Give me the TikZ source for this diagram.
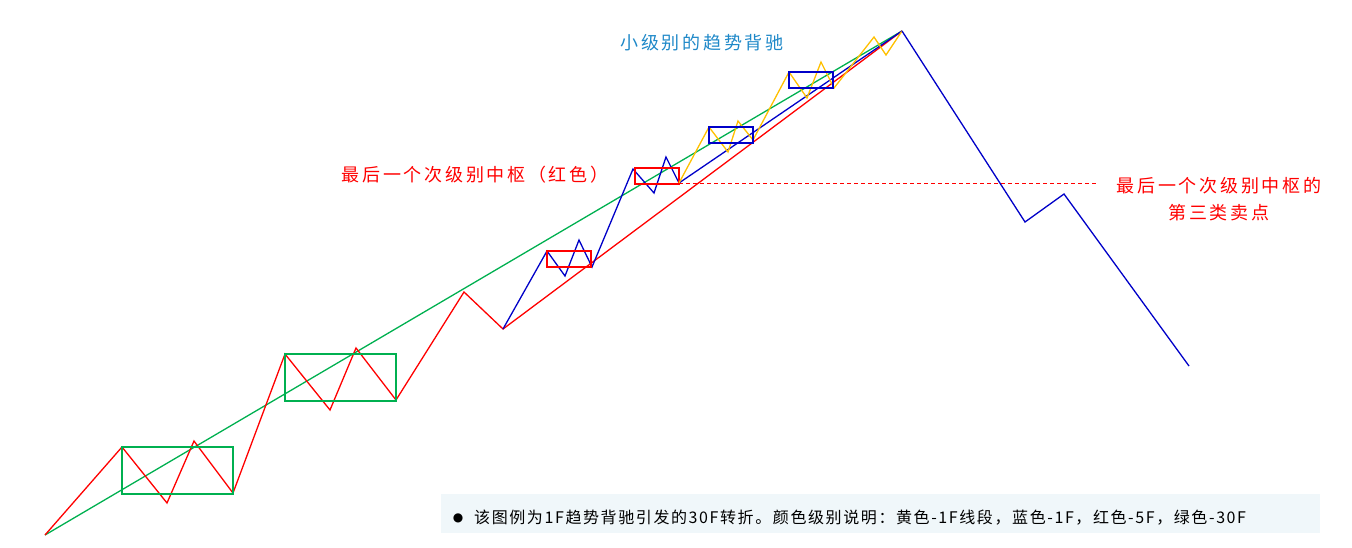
\documentclass[tikz,border=0pt]{standalone}
\usepackage{fontspec}
\newfontfamily\cjk{Noto Sans CJK SC}
\newfontfamily\cjksp[LetterSpace=15]{Noto Sans CJK SC}
\newfontfamily\cjkcap[LetterSpace=10]{Noto Sans CJK SC}
\newfontfamily\dejavu{DejaVu Sans}
\definecolor{cred}{RGB}{255,0,0}
\definecolor{cblue}{RGB}{0,0,200}
\definecolor{cgreen}{RGB}{0,176,80}
\definecolor{cyellow}{RGB}{255,192,0}
\definecolor{ctext}{RGB}{30,136,200}
\definecolor{cbg}{RGB}{240,247,250}
\tikzset{
  seg/.style={line width=1.3pt, line join=miter},
  zsbox/.style={line width=2pt},
  lbl/.style={font=\cjksp\fontsize{18}{22}\selectfont, inner sep=0pt},
}
\begin{document}
\begin{tikzpicture}[x=1pt,y=-1pt]
\useasboundingbox (0,0) rectangle (1352,547);
% caption background
\fill[cbg] (441,494) rectangle (1320,533);
% coordinates
\coordinate (s) at (45,535);
\coordinate (top) at (902,31);
\coordinate (rlow) at (503,329);
\coordinate (blow) at (679,183);
% green trend line
\draw[cgreen, seg] (s) -- (top);
% red 5F segments
\draw[cred, seg] (s) -- (122,447) -- (167,503) -- (194,441) -- (233,493) -- (285,354) -- (330,410) -- (356,348) -- (396,400) -- (464,292) -- (rlow) -- (top);
% green boxes
\draw[cgreen, zsbox] (122,447) rectangle (233,494);
\draw[cgreen, zsbox] (285,354) rectangle (396,401);
% blue 1F segments
\draw[cblue, seg] (rlow) -- (547,251) -- (565,276) -- (579,240) -- (592,267) -- (633,169) -- (654,193) -- (666,157) -- (blow) -- (top);
% red boxes
\draw[cred, zsbox] (547,251) rectangle (591,267);
\draw[cred, zsbox] (635,168) rectangle (679,184);
% yellow
\draw[cyellow, seg] (blow) -- (709,127) -- (728,152) -- (738,121) -- (753,140) -- (789,72) -- (807,98) -- (821,62) -- (834,88) -- (874,37) -- (886,55) -- (top);
% blue boxes
\draw[cblue, zsbox] (709,127) rectangle (753,143);
\draw[cblue, zsbox] (789,72) rectangle (833,88);
% dashed
\coordinate (dend) at (1097,183);
\draw[cred, line width=0.8pt, dash pattern=on 4pt off 3pt] (blow) -- (dend);
% descent
\draw[cblue, seg] (top) -- (1025,222) -- (1064,194) -- (1189,366);
% labels
\node[lbl, text=ctext] (t1) at (702,43) {小级别的趋势背驰};
\node[lbl, text=cred] (t2) at (475,175) {最后一个次级别中枢（红色）};
\node[lbl, text=cred, align=center] (t3) at (1219,199) {最后一个次级别中枢的\\[5pt]第三类卖点};
\node[inner sep=0pt, font=\dejavu\fontsize{12}{14}\selectfont] (bul) at (458,518) {●};
\node[inner sep=0pt, anchor=west, font=\cjkcap\fontsize{16}{18}\selectfont] (cap) at (474,518) {该图例为1F趋势背驰引发的30F转折。颜色级别说明：黄色-1F线段，蓝色-1F，红色-5F，绿色-30F};
\end{tikzpicture}
\end{document}
